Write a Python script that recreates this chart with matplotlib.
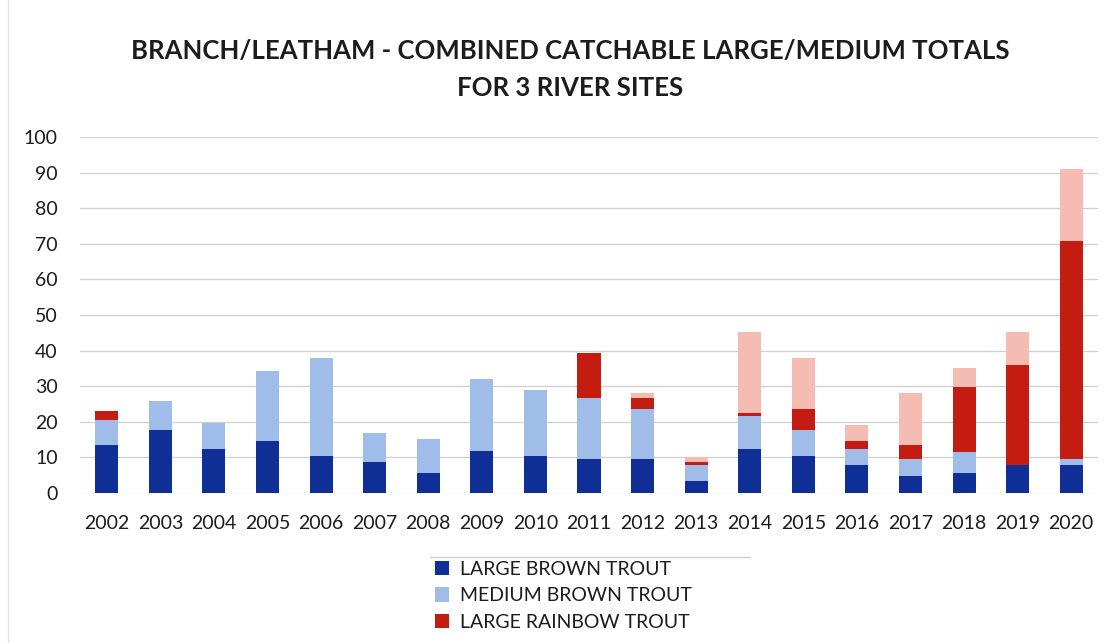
import matplotlib
matplotlib.use("Agg")
import matplotlib.pyplot as plt
from matplotlib.lines import Line2D
import numpy as np

years = ["2002", "2003", "2004", "2005", "2006", "2007", "2008", "2009", "2010",
         "2011", "2012", "2013", "2014", "2015", "2016", "2017", "2018", "2019", "2020"]
large_brown = [13.4, 17.6, 12.5, 14.6, 10.3, 8.6, 5.7, 11.7, 10.3,
               9.5, 9.5, 3.5, 12.5, 10.4, 7.8, 4.8, 5.7, 7.8, 7.9]
medium_brown = [7.2, 8.2, 7.3, 19.6, 27.7, 8.3, 9.4, 20.2, 18.6,
                17.2, 14.1, 4.3, 9.2, 7.3, 4.7, 4.7, 5.9, 0.0, 1.6]
large_rainbow = [2.3, 0, 0, 0, 0, 0, 0, 0, 0,
                 12.5, 3.1, 0.9, 0.7, 6.0, 2.2, 4.1, 18.1, 28.1, 61.4]
medium_rainbow = [0, 0, 0, 0, 0, 0, 0, 0, 0,
                  0, 1.4, 1.3, 22.7, 14.2, 4.4, 14.5, 5.3, 9.3, 20.1]

series = [
    ("LARGE BROWN TROUT", large_brown, "#102f96"),
    ("MEDIUM BROWN TROUT", medium_brown, "#9fbde8"),
    ("LARGE RAINBOW TROUT", large_rainbow, "#c41c10"),
    ("MEDIUM RAINBOW TROUT", medium_rainbow, "#f4bcb2"),
]

plt.rcParams['font.family'] = ['Lato', 'DejaVu Sans']
txt = "#1c1c1c"

fig = plt.figure(figsize=(11.12, 6.43), dpi=100)
ax = fig.add_axes([80/1112, 1-493/643, (1098-80)/1112, (493-137)/643])

x = np.arange(len(years))
bottom = np.zeros(len(years))
handles = []
for name, vals, col in series:
    v = np.array(vals, dtype=float)
    b = ax.bar(x, v, width=0.43, bottom=bottom, color=col, label=name, zorder=3)
    handles.append(b)
    bottom += v

ax.set_xlim(-0.5, len(years) - 0.5)
ax.set_ylim(0, 100)
ax.set_yticks(np.arange(0, 101, 10))
ax.set_xticks(x)
ax.set_xticklabels(years)
ax.tick_params(axis='both', length=0, labelsize=14, colors=txt)
ax.tick_params(axis='x', pad=16)
ax.tick_params(axis='y', pad=16)
ax.grid(axis='y', color='#cfcfd6', linewidth=0.9, zorder=0)
for s in ax.spines.values():
    s.set_visible(False)

fig.text(570/1112, 1-51/643, "BRANCH/LEATHAM - COMBINED CATCHABLE LARGE/MEDIUM TOTALS",
         ha='center', va='center', fontsize=18.5, fontweight='bold', color=txt)
fig.text(570/1112, 1-88/643, "FOR 3 RIVER SITES",
         ha='center', va='center', fontsize=18.5, fontweight='bold', color=txt)

fig.legend(handles=handles[:3], labels=[s[0] for s in series[:3]],
           loc='upper left', bbox_to_anchor=(421/1112, 1-547/643),
           frameon=False, fontsize=14, handlelength=0.75, handleheight=0.75,
           handletextpad=0.55, labelspacing=0.5, borderpad=0.2, labelcolor=txt)

fig.add_artist(Line2D([430/1112, 750/1112], [1-557/643, 1-557/643],
                      transform=fig.transFigure, color='#d9cbd6', lw=1.0))
fig.add_artist(Line2D([8/1112, 8/1112], [0, 1], transform=fig.transFigure,
                      color='#e2e2e2', lw=1.0))

fig.savefig("out.png", dpi=100)
